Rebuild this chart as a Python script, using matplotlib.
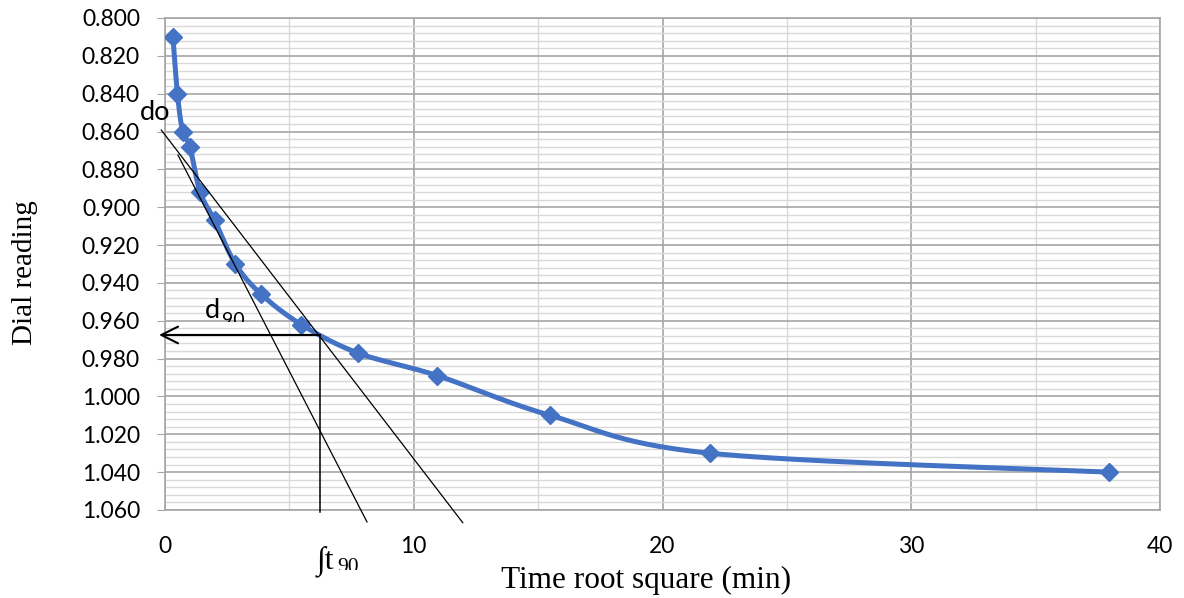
import numpy as np
import matplotlib
matplotlib.use("Agg")
import matplotlib.pyplot as plt
from matplotlib.ticker import MultipleLocator, FormatStrFormatter
from matplotlib.transforms import Bbox

# consolidation test readings: sqrt(time) vs dial reading
root_time = [0.32, 0.5, 0.71, 1.0, 1.41, 2.0, 2.83, 3.87, 5.48, 7.75, 10.95, 15.49, 21.91, 37.95]
dial = [0.810, 0.840, 0.860, 0.868, 0.892, 0.907, 0.930, 0.946, 0.962, 0.977, 0.989, 1.010, 1.030, 1.040]

# hand drawn construction lines (Taylor method)
tangent_a_x = [0.52, 8.12]
tangent_a_y = [0.8724, 1.0663]
tangent_b_x = [-0.15, 11.97]
tangent_b_y = [0.8592, 1.0667]
t90_x = 6.23
d90_y = 0.9675
arrow_end_x = -0.24

blue = "#4472C4"
sans = ["Lato", "DejaVu Sans"]
serif = ["Liberation Serif", "DejaVu Serif"]


def smooth_curve(ax, xs, ys, n=30):
    # Excel-like smoothed line, built in display space then mapped back
    pts = ax.transData.transform(np.column_stack([xs, ys]))
    out = [pts[0]]
    t = np.linspace(0, 1, n)[1:, None]
    for i in range(len(pts) - 1):
        p0 = pts[i - 1] if i > 0 else pts[i]
        p1, p2 = pts[i], pts[i + 1]
        p3 = pts[i + 2] if i + 2 < len(pts) else pts[i + 1]
        c1 = p1 + (p2 - p0) / 6
        c2 = p2 - (p3 - p1) / 6
        seg = (1 - t) ** 3 * p1 + 3 * (1 - t) ** 2 * t * c1 + 3 * (1 - t) * t ** 2 * c2 + t ** 3 * p2
        out.extend(seg)
    return ax.transData.inverted().transform(np.array(out))


fig = plt.figure(figsize=(11.84, 5.98), dpi=100)
ax = fig.add_axes([165 / 1184, 88 / 598, 995 / 1184, 492 / 598])

ax.set_xlim(0, 40)
ax.set_ylim(1.060, 0.800)

ax.xaxis.set_major_locator(MultipleLocator(10))
ax.xaxis.set_minor_locator(MultipleLocator(5))
ax.yaxis.set_major_locator(MultipleLocator(0.02))
ax.yaxis.set_minor_locator(MultipleLocator(0.004))
ax.yaxis.set_major_formatter(FormatStrFormatter("%.3f"))

ax.grid(which="major", color="#a6a6a6", lw=1.2)
ax.grid(which="minor", color="#d9d9d9", lw=1.0)
ax.set_axisbelow(True)
for s in ax.spines.values():
    s.set_color("#a6a6a6")
    s.set_linewidth(1.2)

ax.tick_params(axis="y", which="major", length=6, color="#a6a6a6", pad=12)
ax.tick_params(axis="x", which="major", length=0, pad=19)
ax.tick_params(which="minor", length=0)
for lab in ax.get_xticklabels() + ax.get_yticklabels():
    lab.set_family(sans)
    lab.set_fontsize(16.5)

# smoothed data line + markers
curve = smooth_curve(ax, root_time, dial)
ax.plot(curve[:, 0], curve[:, 1], color=blue, lw=3.6, zorder=3, solid_capstyle="round")
ax.plot(root_time, dial, ls="none", marker="D", ms=9.5, color=blue, zorder=4)

# tangent lines
ax.plot(tangent_a_x, tangent_a_y, color="black", lw=0.9, zorder=5, clip_on=False)
ax.plot(tangent_b_x, tangent_b_y, color="black", lw=0.9, zorder=5, clip_on=False)

# t90 vertical and d90 arrow
ax.plot([t90_x, t90_x], [d90_y, 1.061], color="black", lw=1.1, zorder=5, clip_on=False)
ax.annotate("", xy=(arrow_end_x, d90_y), xytext=(t90_x, d90_y),
            arrowprops=dict(arrowstyle="->, head_length=0.4, head_width=0.2", lw=1.5,
                            color="black", mutation_scale=30, shrinkA=0, shrinkB=0),
            annotation_clip=False, zorder=6)

# labels on the construction
ax.text(-1.0, 0.8539, "do", family=sans, fontsize=19.5, va="baseline", ha="left", zorder=6)
ax.text(1.61, 0.9585, "d", family=sans, fontsize=19.5, va="baseline", ha="left", zorder=6)
sub1 = ax.text(2.28, 0.9628, "90", family=sans, fontsize=14, va="baseline", ha="left", zorder=6)
ax.text(6.08, 1.0907, "\u222bt", family=serif, fontsize=23, va="baseline", ha="left")
sub2 = ax.text(6.93, 1.0925, "90", family=serif, fontsize=15.5, va="baseline", ha="left")

# subscripts are cut off at the bottom like the original text boxes
x0, y_cut1 = ax.transData.transform((0, 0.9607))
sub1.set_clip_box(Bbox.from_extents(0, y_cut1, 1184, 598))
x0, y_cut2 = ax.transData.transform((0, 1.0918))
sub2.set_clip_box(Bbox.from_extents(0, y_cut2, 1184, 598))
sub2.set_clip_on(True)
sub1.set_clip_on(True)

ax.set_xlabel("Time root square (min)", family=serif, fontsize=22.5)
ax.xaxis.set_label_coords(0.483, -0.1585)
ax.xaxis.label.set_va("baseline")
ax.set_ylabel("Dial reading", family=serif, fontsize=21)
ax.yaxis.set_label_coords(-0.1407, 0.482)
ax.yaxis.label.set_va("center")

fig.savefig("out.png", dpi=100)
